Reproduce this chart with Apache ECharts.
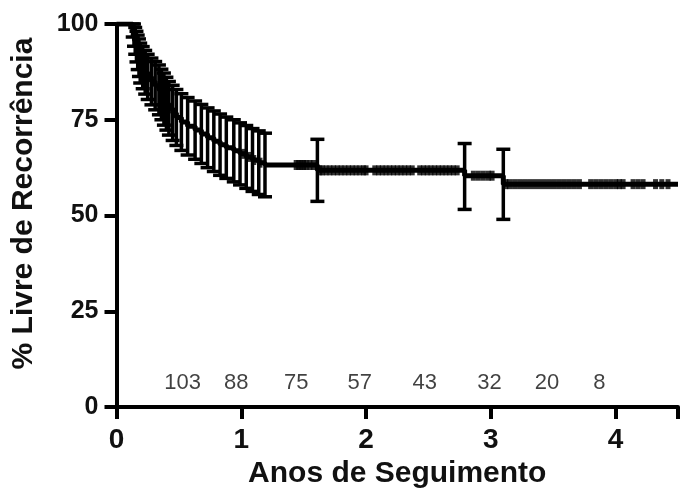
<!DOCTYPE html>
<html>
<head>
<meta charset="utf-8">
<script src="https://cdn.jsdelivr.net/npm/echarts@6/dist/echarts.min.js"></script>
<style>
  html, body { margin: 0; padding: 0; background: #fff; }
  #chart { width: 681px; height: 494px; }
</style>
</head>
<body>
<div id="chart"></div>
<script>
// Kaplan-Meier: tempos dos eventos (anos) e sobrevida livre de recorrência (%)
const eventTimes = [0.13, 0.14, 0.15, 0.16, 0.17, 0.18, 0.19, 0.21, 0.23, 0.25, 0.28, 0.31, 0.34, 0.36, 0.38, 0.40,
  0.42, 0.45, 0.48, 0.52, 0.57, 0.63, 0.68, 0.73, 0.78, 0.83, 0.88, 0.94, 0.99, 1.04, 1.09, 1.14, 1.19, 1.61, 2.79, 3.10];
const survival = [98.6, 97.1, 95.6, 94.1, 92.6, 91.2, 89.8, 88.6, 87.4, 86.2, 85.0, 83.9, 82.8, 81.6, 80.4, 79.2,
  78.0, 76.8, 75.6, 74.4, 73.3, 72.3, 71.3, 70.3, 69.4, 68.5, 67.7, 66.9, 66.1, 65.3, 64.5, 63.8, 63.2, 61.8, 60.4, 58.2];
const ciLower = [96.6, 94.2, 92.1, 90.1, 88.1, 86.3, 84.6, 83.1, 81.7, 80.3, 78.9, 77.6, 76.3, 75.0, 73.6, 72.3,
  71.0, 69.6, 68.3, 67.0, 65.8, 64.7, 63.6, 62.5, 61.5, 60.5, 59.7, 58.8, 58.0, 57.1, 56.3, 55.5, 54.9, 53.7, 51.6, 49.0];
const ciUpper = [100, 100, 99.1, 98.1, 97.1, 96.1, 95.0, 94.1, 93.1, 92.1, 91.1, 90.2, 89.3, 88.2, 87.2, 86.1,
  85.0, 84.0, 82.9, 81.8, 80.8, 79.9, 79.0, 78.1, 77.3, 76.5, 75.7, 75.0, 74.2, 73.5, 72.7, 72.1, 71.5, 69.9, 68.8, 67.3];

// Dados censurados (anos)
const censorTimes = [1.02, 1.06, 1.10, 1.15, 1.44, 1.46, 1.48, 1.50, 1.52, 1.55, 1.58,
  1.63, 1.65, 1.68, 1.71, 1.74, 1.77, 1.80, 1.83, 1.86, 1.89, 1.92, 1.95, 1.98, 2.00,
  2.07, 2.10, 2.13, 2.16, 2.19, 2.22, 2.25, 2.28, 2.31, 2.34, 2.37, 2.43, 2.46, 2.49,
  2.52, 2.55, 2.58, 2.61, 2.64, 2.67, 2.70, 2.73, 2.86, 2.90, 2.94, 2.98,
  3.01, 3.12, 3.15, 3.19, 3.23, 3.27, 3.31, 3.35, 3.39, 3.43, 3.47,
  3.51, 3.55, 3.59, 3.63, 3.67, 3.71, 3.80, 3.84, 3.88, 3.92, 3.96, 4.00,
  4.03, 4.06, 4.14, 4.18, 4.22, 4.32, 4.37, 4.42];

// Número em risco
const riskTimes = [0.53, 0.96, 1.44, 1.95, 2.47, 2.99, 3.45, 3.87];
const riskCounts = [103, 88, 75, 57, 43, 32, 20, 8];
const riskLevel = 6.3;

const xMax = 4.5;
const font = "Arial, 'Liberation Sans', Helvetica, sans-serif";

function survAt(t) {
  let s = 100;
  for (let i = 0; i < eventTimes.length; i++) {
    if (eventTimes[i] <= t) s = survival[i];
  }
  return s;
}

const stepData = [[0, 100]]
  .concat(eventTimes.map((t, i) => [t, survival[i]]))
  .concat([[xMax, survival[survival.length - 1]]]);

const errData = eventTimes.map((t, i) => [t, ciLower[i], ciUpper[i]]);
const censorData = censorTimes.map((t) => [t, survAt(t)]);
const riskData = riskTimes.map((t, i) => [t, riskLevel, riskCounts[i]]);

const chart = echarts.init(document.getElementById("chart"));
chart.setOption({
  backgroundColor: "#fff",
  animation: false,
  grid: { left: 116.5, right: -7, top: 24, bottom: 86.5, containLabel: false },
  xAxis: {
    type: "value",
    min: 0,
    max: xMax,
    interval: 1,
    name: "Anos de Seguimento",
    nameLocation: "middle",
    nameGap: 43,
    nameTextStyle: { fontFamily: font, fontSize: 30, fontWeight: "bold", color: "#111" },
    axisLine: { lineStyle: { color: "#000", width: 4 } },
    axisTick: { length: 12, lineStyle: { color: "#000", width: 4 } },
    axisLabel: {
      fontFamily: font, fontSize: 28, fontWeight: "bold", color: "#111", margin: 19,
      formatter: (v) => (v > 4 ? "" : String(v)),
    },
    splitLine: { show: false },
  },
  yAxis: {
    type: "value",
    min: 0,
    max: 100,
    interval: 25,
    name: "% Livre de Recorrência",
    nameLocation: "middle",
    nameGap: 78,
    nameTextStyle: { fontFamily: font, fontSize: 30, fontWeight: "bold", color: "#111", padding: [0, 0, 0, 24] },
    axisLine: { lineStyle: { color: "#000", width: 4 } },
    axisTick: { length: 12, lineStyle: { color: "#000", width: 4 } },
    axisLabel: { fontFamily: font, fontSize: 25, fontWeight: "bold", color: "#111", margin: 18 },
    splitLine: { show: false },
  },
  series: [
    {
      type: "line",
      step: "end",
      data: stepData,
      symbol: "none",
      lineStyle: { color: "#000", width: 5 },
      z: 3,
    },
    {
      type: "custom",
      data: errData,
      z: 4,
      renderItem: (params, api) => {
        const x = api.value(0);
        const lo = api.coord([x, api.value(1)]);
        const hi = api.coord([x, api.value(2)]);
        const cap = 7;
        const style = { stroke: "#000", lineWidth: 3.5 };
        return {
          type: "group",
          children: [
            { type: "line", shape: { x1: lo[0], y1: lo[1], x2: hi[0], y2: hi[1] }, style },
            { type: "line", shape: { x1: lo[0] - cap, y1: lo[1], x2: lo[0] + cap, y2: lo[1] }, style },
            { type: "line", shape: { x1: hi[0] - cap, y1: hi[1], x2: hi[0] + cap, y2: hi[1] }, style },
          ],
        };
      },
    },
    {
      type: "scatter",
      data: censorData,
      symbol: "rect",
      symbolSize: [5, 10],
      itemStyle: { color: "#000" },
      z: 4,
    },
    {
      type: "scatter",
      data: riskData,
      symbolSize: 0,
      label: {
        show: true,
        position: "inside",
        formatter: (p) => String(p.value[2]),
        fontFamily: font,
        fontSize: 22,
        color: "#111",
      },
      z: 5,
    },
  ],
});
</script>
</body>
</html>
